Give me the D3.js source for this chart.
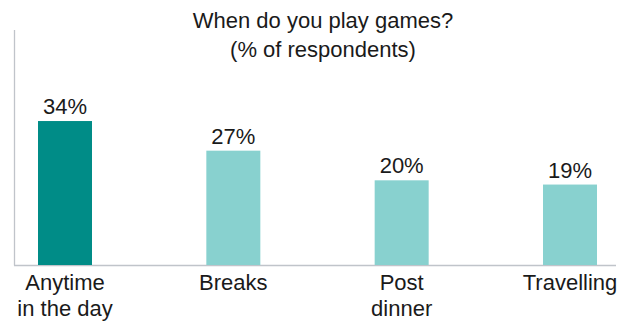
<!DOCTYPE html>
<html><head><meta charset="utf-8">
<script src="https://cdn.jsdelivr.net/npm/d3@7"></script>
<style>body{margin:0;background:#fff}svg{display:block}</style>
</head><body>
<script>
const categories = [["Anytime","in the day"],["Breaks"],["Post","dinner"],["Travelling"]];
const values = [34, 27, 20, 19];
const highlight = [true, false, false, false];
const titleLines = ["When do you play games?", "(% of respondents)"];

const W = 635, H = 324;
const font = "'Liberation Sans', Arial, sans-serif";
const svg = d3.select("body").append("svg").attr("width", W).attr("height", H);

const x = d3.scalePoint().domain(d3.range(categories.length)).range([65, 570]);
const y = d3.scaleLinear().domain([0, 55.5]).range([265, 30]);
const barW = 54;

// title
svg.append("text").attr("x", 323).attr("y", 28).attr("text-anchor","middle")
  .attr("font-family", font).attr("font-size", 22).attr("fill","#1a1a1a")
  .selectAll("tspan").data(titleLines).join("tspan")
  .attr("x", 323).attr("dy", (d,i)=> i ? 29 : 0).text(d=>d);

// axes lines
svg.append("line").attr("x1",14.5).attr("x2",14.5).attr("y1",y.range()[1]).attr("y2",y(0)+0.5)
  .attr("stroke","#c0c4ca").attr("stroke-width",1.3);
svg.append("line").attr("x1",14).attr("x2",616).attr("y1",y(0)+0.5).attr("y2",y(0)+0.5)
  .attr("stroke","#c0c4ca").attr("stroke-width",1.3);

// bars
svg.selectAll("rect.bar").data(values).join("rect").attr("class","bar")
  .attr("x",(d,i)=>x(i)-barW/2).attr("width",barW)
  .attr("y",d=>y(d)).attr("height",d=>y(0)-y(d))
  .attr("fill",(d,i)=>highlight[i] ? "#008c87" : "#88d1cf");

// value labels
svg.selectAll("text.val").data(values).join("text").attr("class","val")
  .attr("x",(d,i)=>x(i)).attr("y",d=>y(d)-7).attr("text-anchor","middle")
  .attr("font-family",font).attr("font-size",22).attr("fill","#1a1a1a")
  .text(d=>d+"%");

// category labels
const cat = svg.selectAll("text.cat").data(categories).join("text").attr("class","cat")
  .attr("text-anchor","middle").attr("font-family",font).attr("font-size",22).attr("fill","#1a1a1a")
  .attr("y", 290);
cat.each(function(lines,i){
  d3.select(this).selectAll("tspan").data(lines).join("tspan")
    .attr("x", x(i)).attr("dy",(d,j)=> j ? 26 : 0).text(d=>d);
});
</script>
</body></html>
